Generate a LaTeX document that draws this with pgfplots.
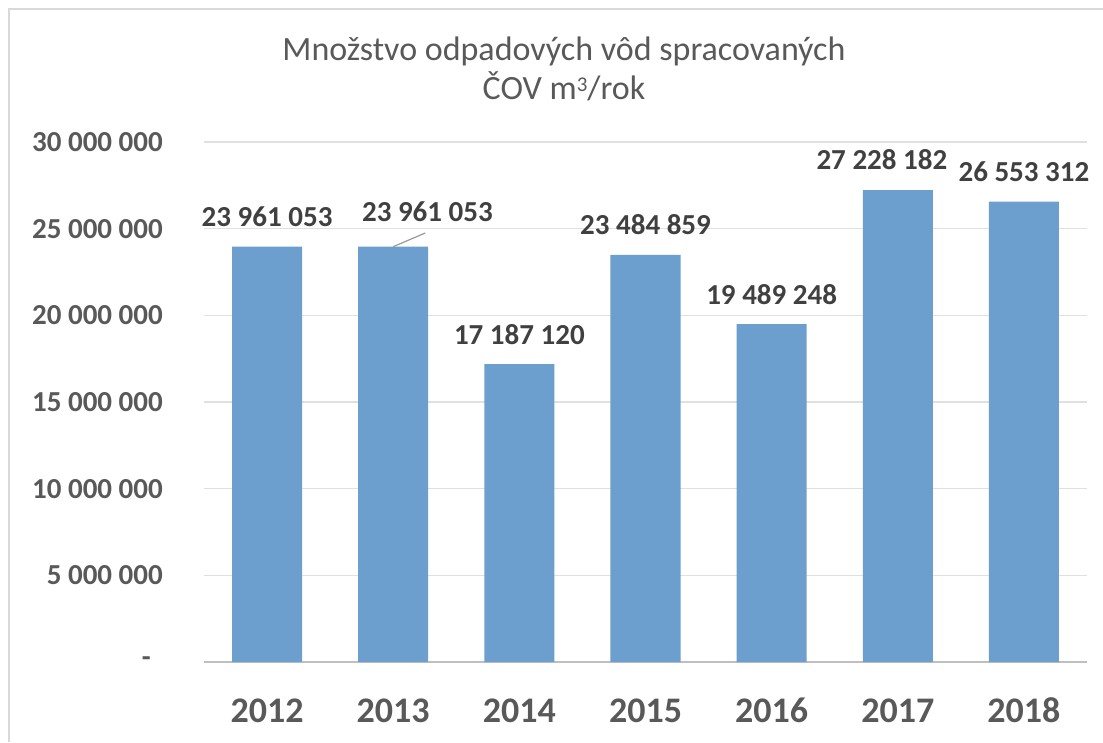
\documentclass[border=0pt]{standalone}
\usepackage{fontspec}
\setmainfont{Carlito}
\usepackage{pgfplots}
\pgfplotsset{compat=1.18}
\definecolor{barblue}{RGB}{108,159,205}
\definecolor{txtgray}{RGB}{89,89,89}
\definecolor{lblgray}{RGB}{64,64,64}
\definecolor{gridgray}{RGB}{224,224,224}
\definecolor{axisgray}{RGB}{191,191,191}
\definecolor{framegray}{RGB}{217,217,217}
\begin{document}
\begin{tikzpicture}[x=1pt,y=1pt]
\useasboundingbox (0,0) rectangle (1103,742);
\draw[framegray, line width=2pt] (8.5,0) -- (8.5,732.5) -- (1103,732.5);
\node[text=txtgray, font=\fontsize{34}{39}\selectfont, align=center, anchor=base] at (564,642) {Množstvo odpadových vôd spracovaných\\ČOV m\raisebox{8.5pt}{\fontsize{21}{21}\selectfont 3}/rok};
\begin{axis}[
  at={(204pt,80pt)}, anchor=south west, scale only axis,
  width=883pt, height=520pt,
  xmin=-0.5, xmax=6.5, ymin=0, ymax=30000000,
  scaled y ticks=false,
  ybar, bar width=70pt,
  ytick={0,5000000,10000000,15000000,20000000,25000000,30000000},
  yticklabels={\makebox[21pt][l]{-},5 000 000,10 000 000,15 000 000,20 000 000,25 000 000,30 000 000},
  xtick={0,1,2,3,4,5,6},
  xticklabels={2012,2013,2014,2015,2016,2017,2018},
  major tick length=0pt,
  ymajorgrids, grid style={gridgray, line width=1.2pt},
  axis x line*=bottom, axis y line*=left,
  y axis line style={draw=none},
  x axis line style={axisgray, line width=2.2pt, -},
  yticklabel style={font=\fontsize{29}{34}\selectfont\bfseries, text=txtgray, anchor=east, inner sep=0pt, xshift=-41pt},
  xticklabel style={font=\fontsize{36}{42}\selectfont\bfseries, text=txtgray, anchor=base, inner sep=0pt, yshift=-60pt},
  clip=false,
]
\addplot[fill=barblue, draw=none,
  nodes near coords, point meta=explicit symbolic,
  nodes near coords style={font=\fontsize{29}{34}\selectfont\bfseries, text=lblgray, anchor=base, inner sep=0pt, yshift=20pt}]
coordinates {
 (0,23961053) [23 961 053]
 (1,23961053) []
 (2,17187120) [17 187 120]
 (3,23484859) [23 484 859]
 (4,19489248) [19 489 248]
 (5,27228182) []
 (6,26553312) [26 553 312]
};
\draw[gray!80, line width=1.2pt] (axis cs:1,23961053) -- (axis cs:1.254,24750000);
\node[font=\fontsize{29}{34}\selectfont\bfseries, text=lblgray, anchor=base, inner sep=0pt] at (axis cs:1.271,25442000) {23 961 053};
\node[font=\fontsize{29}{34}\selectfont\bfseries, text=lblgray, anchor=base, inner sep=0pt] at (axis cs:4.874,28442000) {27 228 182};
\end{axis}
\end{tikzpicture}
\end{document}
